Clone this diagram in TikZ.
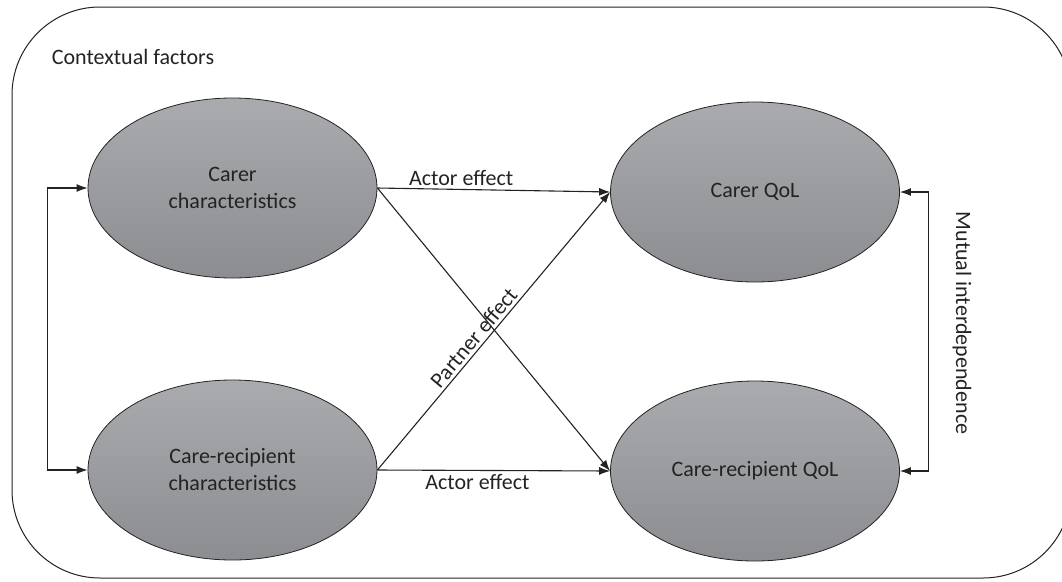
\documentclass[tikz,border=0pt]{standalone}
\usepackage{fontspec}
\setmainfont{Carlito}
\usepackage{tikz}
\usetikzlibrary{shapes,arrows.meta}
\definecolor{ovaltop}{RGB}{170,171,175}
\definecolor{ovalbot}{RGB}{140,141,145}
\definecolor{ink}{RGB}{35,35,35}

\begin{document}
\begin{tikzpicture}[x=1pt,y=-1pt,
	every node/.style={font=\fontsize{22}{27}\selectfont,text=ink},
	oval/.style={ellipse,draw=ink,line width=0.8pt,top color=ovaltop,bottom color=ovalbot,
		minimum width=289pt,minimum height=180pt,inner sep=0pt,align=center},
	lbl/.style={inner sep=3pt},
	link/.style={ink,line width=1.1pt},
	>={Latex[length=11pt,width=8pt]}]

		\useasboundingbox (0,0) rectangle (1062,581);
		\clip (0,0) rectangle (1062,581);
		\draw[ink,line width=1pt,rounded corners=88pt] (12,7) rectangle (1071,578);
		\node (ctx) at (133,57) {Contextual factors};

		\node[oval] (cc) at (232.5,188) {Carer\\characteristics};
		\node[oval] (cr) at (232.5,470) {Care-recipient\\characteristics};
		\node[oval] (cq) at (755,192) {Carer QoL};
		\node[oval] (rq) at (755,471) {Care-recipient QoL};

		\path[->,link] (cc.east) edge node[lbl,pos=0.36,above] {Actor effect} (cq.west);
		\path[->,link] (cr.east) edge node[lbl,pos=0.43,below] {Actor effect} (rq.west);
		\path[->,link] (cc.east) edge (rq.west);
		\path[->,link] (cr.east) edge node[lbl,pos=0.45,above,sloped] {Partner effect} (cq.west);
		\draw[<->,link] (cc.west) -- ++(-40,0) |- (cr.west);
		\draw[<->,link] (cq.east) -- ++(29,0) |- (rq.east);
		\node[rotate=-90] (mut) at (962,323) {Mutual interdependence};

	\end{tikzpicture}
\end{document}
